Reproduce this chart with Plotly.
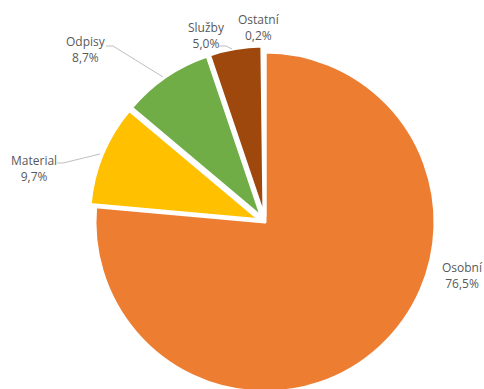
import plotly.graph_objects as go

# Cost structure (share of total, %)
categories = ["Osobní", "Material", "Odpisy", "Služby", "Ostatní"]
shares = [76.5, 9.7, 8.7, 5.0, 0.2]
colors = ["#ED7D31", "#FFC000", "#70AD47", "#9E480E", "#997300"]

W, H = 484, 398


def paper(px, py):
    """Pixel position (from top-left) -> paper coordinates."""
    return px / W, 1 - py / H


# Pie placement in pixels
cx, cy, half = 265, 222, 176
pull = [0, 0.035, 0.035, 0.035, 0.035]

fig = go.Figure(
    go.Pie(
        labels=categories,
        values=shares,
        sort=False,
        direction="clockwise",
        rotation=0,
        pull=pull,
        marker=dict(colors=colors, line=dict(color="white", width=3)),
        textinfo="none",
        hoverinfo="label+percent",
        showlegend=False,
        domain=dict(
            x=[(cx - half) / W, (cx + half) / W],
            y=[(H - cy - half) / H, (H - cy + half) / H],
        ),
    )
)

# Data label positions (pixel centers) and leader lines
label_pos = {
    "Osobní": (462, 275),
    "Material": (34, 168),
    "Odpisy": (86, 50),
    "Služby": (206, 35),
    "Ostatní": (259, 28),
}
leaders = {
    "Material": [(57, 163), (63, 163), (100, 154)],
    "Odpisy": [(106, 46), (113, 46), (163, 77)],
    "Služby": [(219, 46), (226, 46), (232, 49)],
}

annotations = []
for name, val in zip(categories, shares):
    px, py = label_pos[name]
    x, y = paper(px, py)
    txt = f"{name}<br>{val:.1f}%".replace(".", ",")
    annotations.append(
        dict(
            x=x, y=y, xref="paper", yref="paper",
            text=txt, showarrow=False,
            xanchor="center", yanchor="middle",
            font=dict(family="Open Sans", size=12, color="#595959"),
        )
    )

shapes = []
for name, pts in leaders.items():
    path = ""
    for i, (px, py) in enumerate(pts):
        x, y = paper(px, py)
        path += ("M" if i == 0 else "L") + f"{x:.5f},{y:.5f} "
    shapes.append(
        dict(type="path", xref="paper", yref="paper", path=path.strip(),
             line=dict(color="#BFBFBF", width=1))
    )

fig.update_layout(
    width=W,
    height=H,
    margin=dict(l=0, r=0, t=0, b=0),
    paper_bgcolor="white",
    plot_bgcolor="white",
    annotations=annotations,
    shapes=shapes,
)

fig.write_html("out.html")
